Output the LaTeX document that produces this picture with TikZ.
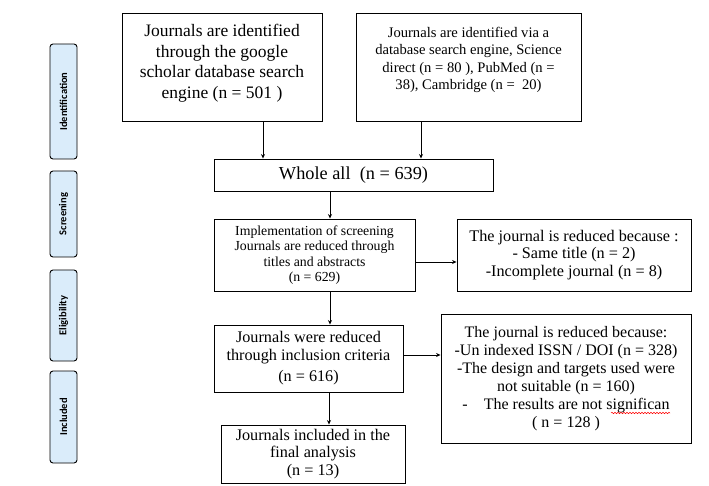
\documentclass[tikz,border=0pt]{standalone}
\usepackage{fontspec}
\setmainfont{Liberation Serif}
\newfontfamily\stagefont{Carlito}
\usetikzlibrary{arrows.meta, decorations.pathmorphing}
\definecolor{stagefill}{RGB}{218,236,250}

\begin{document}
\begin{tikzpicture}[x = 1pt, y = -1pt,
        box/.style = {draw, line width = .9pt, align = center, inner sep = 2pt},
        stage/.style = {draw, line width = .9pt, rounded corners = 3pt, fill = stagefill, rotate = 90,
            minimum height = 27pt, inner sep = 1pt, font = \stagefont\bfseries\fontsize{10.5}{12}\selectfont},
        arr/.style = {-{Stealth[length = 4.5pt, width = 4pt]}, line width = .8pt}]
    \useasboundingbox (0,0) rectangle (709,486);
    \foreach \name/\lab/\yc/\len in {idf/Identification/101.5/115, scr/Screening/214/86, elg/Eligibility/315.5/91, inc/Included/417/92}
        \node[stage, minimum width = \len pt] (\name) at (63.5,\yc) {\lab};
    \node[box, minimum width = 200pt, minimum height = 108pt, font = \fontsize{17.5}{20.5}\selectfont] (scholar) at (222,67)
        {Journals are identified\\through the google\\scholar database search\\engine (n = 501 )\\[-9pt]~};
    \node[box, minimum width = 225pt, minimum height = 108pt, font = \fontsize{14.6}{17.5}\selectfont] (engine) at (468.5,67)
        {Journals are identified via a\\database search engine, Science\\direct (n = 80 ), PubMed (n =\\38), Cambridge (n =~~20)\\~};
    \node[box, minimum width = 279pt, minimum height = 32pt, font = \fontsize{18.3}{20}\selectfont] (whole) at (353.5,175)
        {Whole all~~(n = 639)};
    \node[box, minimum width = 201pt, minimum height = 72pt, font = \fontsize{13.8}{15.5}\selectfont] (screen) at (314.5,255)
        {Implementation of screening\\Journals are reduced through\\titles and abstracts\\(n = 629)};
    \node[box, minimum width = 234pt, minimum height = 72pt, font = \fontsize{16.2}{17.5}\selectfont] (cut1) at (574,255)
        {The journal is reduced because :\\- Same title (n = 2)\\-Incomplete journal (n = 8)};
    \node[box, minimum width = 189pt, minimum height = 67pt, font = \fontsize{16.2}{17.5}\selectfont] (criteria) at (308.5,358.5)
        {Journals were reduced\\through inclusion criteria\\[4pt](n = 616)};
    \node[box, minimum width = 250pt, minimum height = 129pt, font = \fontsize{16}{18}\selectfont] (cut2) at (566,378.5)
        {The journal is reduced because:\\-Un indexed ISSN / DOI (n = 328)\\-The design and targets used were\\not suitable (n = 160)\\-\hspace{16pt}The results are not significan\\( n = 128 )};
    \node[box, minimum width = 184pt, minimum height = 58pt, font = \fontsize{16.2}{17.5}\selectfont] (final) at (313,454)
        {Journals included in the\\final analysis\\(n = 13)};
    \draw[arr] ([xshift = 41pt]scholar.south) -- ([xshift = 41pt]scholar.south |- whole.north);
    \draw[arr] ([xshift = -47.5pt]engine.south) -- ([xshift = -47.5pt]engine.south |- whole.north);
    \draw[arr] ([xshift = -23.5pt]whole.south) -- ([xshift = -23.5pt]whole.south |- screen.north);
    \draw[arr] ([yshift = -7pt]screen.east) -- ([yshift = -7pt]screen.east -| cut1.west);
    \draw[arr] ([xshift = 15.5pt]screen.south) -- ([xshift = 15.5pt]screen.south |- criteria.north);
    \draw[arr] ([yshift = 3.5pt]criteria.east) -- ([yshift = 3.5pt]criteria.east -| cut2.west);
    \draw[arr] ([xshift = 20.5pt]criteria.south) -- ([xshift = 20.5pt]criteria.south |- final.north);
    \draw[red, line width = .5pt, decorate, decoration = {snake, amplitude = .7pt, segment length = 3pt}]
        ([shift = {(45,34.5)}]cut2.center) -- ++(59,0);
\end{tikzpicture}
\end{document}
